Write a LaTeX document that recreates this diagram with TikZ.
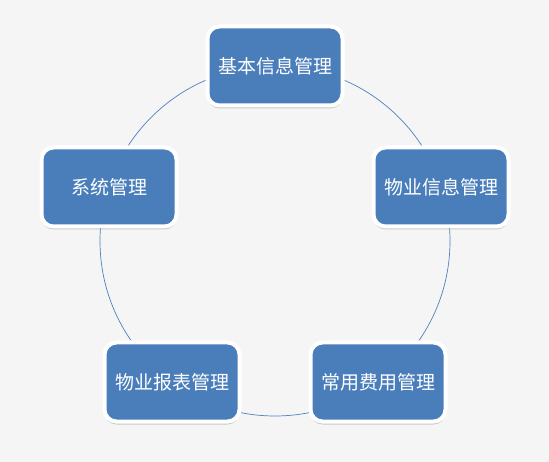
\documentclass[tikz,border=0pt]{standalone}
\usepackage{fontspec}
\newfontfamily\cjk{Noto Sans CJK SC}
\usetikzlibrary{shadows}
\definecolor{bg}{HTML}{F5F5F5}
\definecolor{boxblue}{HTML}{4A7EBB}
\definecolor{ringblue}{HTML}{4F81BD}
\tikzset{
  module/.style={draw=white, line width=4pt, fill=boxblue, rounded corners=12pt,
    minimum width=135pt, minimum height=79pt, inner sep=0pt,
    text=white, font=\cjk\fontsize{19}{21}\selectfont,
    drop shadow={shadow xshift=0pt, shadow yshift=-3pt, opacity=0.3, fill=black!60}},
  ring/.style={draw=ringblue, line width=0.7pt}
}
\begin{document}
\begin{tikzpicture}[x=1pt,y=-1pt]
\fill[bg] (0,0) rectangle (549,462);
\useasboundingbox (0,0) rectangle (549,462);
\coordinate (c) at (275,241);
\draw[ring] (c) circle[radius=175];
\node[module] (n1) at (275,66) {基本信息管理};
\node[module] (n2) at (441,187) {物业信息管理};
\node[module] (n3) at (378,382) {常用费用管理};
\node[module] (n4) at (172,382) {物业报表管理};
\node[module] (n5) at (109,187) {系统管理};
\end{tikzpicture}
\end{document}
